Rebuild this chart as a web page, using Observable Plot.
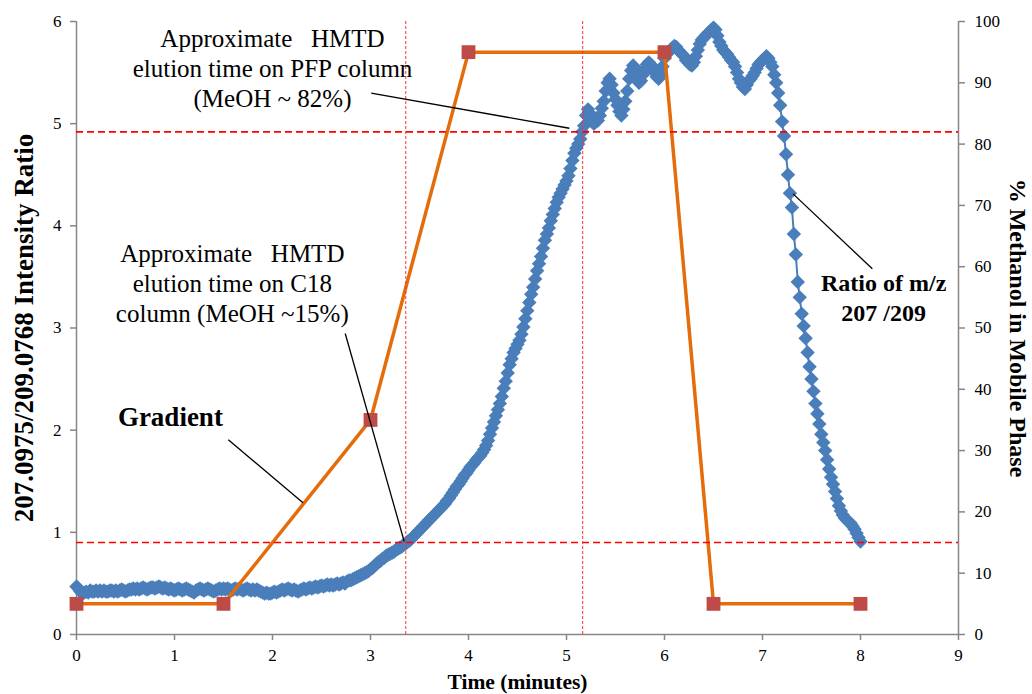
<!DOCTYPE html>
<html>
<head>
<meta charset="utf-8">
<script src="https://cdn.jsdelivr.net/npm/d3@7"></script>
<script src="https://cdn.jsdelivr.net/npm/@observablehq/plot@0.6"></script>
<style>
  html, body { margin: 0; padding: 0; background: #ffffff; }
  #chart { width: 1032px; height: 694px; }
</style>
</head>
<body>
<div id="chart"></div>
<script>
// ---- Data ----
const ratioStartTime = 0;
const ratioStepTime = 0.02;
const ratioValues = [
  0.47,0.45,0.42,0.40,0.41,0.42,0.41,0.43,0.42,0.42,
  0.43,0.42,0.43,0.42,0.43,0.42,0.42,0.43,0.43,0.42,
  0.43,0.42,0.43,0.44,0.43,0.42,0.43,0.44,0.44,0.45,
  0.44,0.45,0.44,0.45,0.46,0.45,0.44,0.45,0.46,0.46,
  0.45,0.46,0.47,0.46,0.45,0.46,0.45,0.44,0.45,0.44,
  0.43,0.44,0.45,0.44,0.43,0.44,0.45,0.44,0.43,0.42,
  0.41,0.43,0.44,0.45,0.44,0.43,0.44,0.45,0.44,0.43,
  0.42,0.43,0.44,0.45,0.44,0.45,0.44,0.45,0.44,0.43,
  0.44,0.45,0.44,0.45,0.44,0.43,0.44,0.45,0.44,0.43,
  0.44,0.43,0.44,0.43,0.42,0.41,0.40,0.41,0.40,0.40,
  0.41,0.42,0.41,0.42,0.43,0.44,0.43,0.44,0.45,0.44,
  0.43,0.44,0.43,0.42,0.43,0.44,0.45,0.44,0.45,0.46,
  0.45,0.46,0.47,0.46,0.47,0.48,0.47,0.48,0.49,0.48,
  0.49,0.48,0.49,0.50,0.49,0.50,0.51,0.50,0.52,0.53,
  0.53,0.54,0.55,0.56,0.57,0.58,0.59,0.60,0.61,0.62,
  0.64,0.65,0.67,0.69,0.71,0.72,0.74,0.75,0.77,0.78,
  0.79,0.80,0.81,0.83,0.84,0.85,0.86,0.88,0.89,0.91,
  0.92,0.94,0.96,0.98,1.00,1.02,1.04,1.06,1.08,1.10,
  1.12,1.14,1.16,1.18,1.20,1.22,1.24,1.26,1.28,1.31,
  1.33,1.36,1.39,1.42,1.45,1.47,1.50,1.53,1.56,1.58,
  1.61,1.64,1.66,1.68,1.71,1.73,1.75,1.78,1.81,1.85,
  1.90,1.96,2.02,2.08,2.14,2.20,2.26,2.33,2.41,2.48,
  2.56,2.64,2.70,2.76,2.80,2.84,2.88,2.94,3.01,3.09,
  3.17,3.25,3.33,3.40,3.48,3.56,3.63,3.70,3.78,3.86,
  3.92,3.98,4.05,4.11,4.17,4.23,4.28,4.32,4.36,4.40,
  4.44,4.49,4.56,4.64,4.71,4.76,4.80,4.85,4.92,4.98,
  5.08,5.14,5.10,5.02,5.00,5.05,5.03,5.08,5.15,5.22,
  5.32,5.40,5.44,5.38,5.30,5.24,5.18,5.12,5.08,5.14,
  5.22,5.32,5.44,5.52,5.57,5.54,5.48,5.40,5.42,5.48,
  5.54,5.58,5.60,5.58,5.54,5.50,5.46,5.44,5.48,5.56,
  5.64,5.68,5.70,5.72,5.74,5.76,5.75,5.72,5.70,5.68,
  5.66,5.62,5.60,5.58,5.57,5.60,5.66,5.72,5.78,5.82,
  5.84,5.86,5.88,5.90,5.92,5.94,5.92,5.86,5.80,5.76,
  5.72,5.70,5.68,5.65,5.62,5.60,5.56,5.50,5.44,5.40,
  5.36,5.34,5.38,5.42,5.44,5.47,5.50,5.54,5.58,5.60,
  5.62,5.64,5.66,5.64,5.60,5.56,5.48,5.40,5.30,5.18,
  5.02,4.88,4.70,4.50,4.32,4.18,3.92,3.72,3.45,3.30,
  3.14,3.02,2.90,2.76,2.62,2.50,2.38,2.26,2.16,2.06,
  1.96,1.88,1.80,1.71,1.62,1.54,1.47,1.40,1.33,1.26,
  1.21,1.17,1.14,1.12,1.10,1.09,1.06,1.03,0.99,0.95,
  0.91
];

// Gradient program (% methanol in mobile phase)
const gradientTimes = [0, 1.5, 3, 4, 6, 6.5, 8];
const gradientPercent = [5, 5, 35, 95, 95, 5, 5];

// Reference lines
const methanolRefPercent = [15, 82];      // horizontal dashed lines (% MeOH)
const elutionTimes = [3.36, 5.165];       // vertical dotted lines (min)

// Axis ticks
const xTicks = [0, 1, 2, 3, 4, 5, 6, 7, 8, 9];
const yTicks = [0, 1, 2, 3, 4, 5, 6];
const pctTicks = [0, 10, 20, 30, 40, 50, 60, 70, 80, 90, 100];

// Annotations (text & leader lines, data coordinates)
const annotationTexts = [
  {t: 2.0, v: 5.55, text: "Approximate\u00a0\u00a0 HMTD\nelution time on PFP column\n(MeOH ~ 82%)"},
  {t: 1.59, v: 3.45, text: "Approximate\u00a0\u00a0 HMTD\nelution time on C18\ncolumn (MeOH ~15%)"}
];
const boldTexts = [
  {t: 0.958, v: 2.15, text: "Gradient", size: 27},
  {t: 8.236, v: 3.31, text: "Ratio of m/z\n207 /209", size: 24}
];
const leaders = [
  {t1: 3.007, v1: 5.298, t2: 5.029, v2: 4.955},
  {t1: 2.742, v1: 2.946, t2: 3.344, v2: 0.910},
  {t1: 1.549, v1: 1.906, t2: 2.311, v2: 1.289},
  {t1: 7.312, v1: 4.313, t2: 8.121, v2: 3.579}
];

// ---- Derived tables ----
const Y_MAX = 6, PCT_MAX = 100;
const pctToY = p => p * Y_MAX / PCT_MAX;
const ratio = ratioValues.map((v, i) => ({t: ratioStartTime + i * ratioStepTime, v}));
const gradient = gradientTimes.map((t, i) => ({t, v: pctToY(gradientPercent[i])}));

const AXIS_GRAY = "#868686";

const chart = Plot.plot({
  width: 1032,
  height: 694,
  marginLeft: 76,
  marginRight: 74,
  marginTop: 21,
  marginBottom: 60,
  style: {fontFamily: "'Liberation Serif', 'Times New Roman', serif", fontSize: "17px", background: "#ffffff", color: "#000000"},
  x: {domain: [0, 9]},
  y: {domain: [0, 6]},
  marks: [
    // axis lines
    Plot.ruleY([0], {stroke: AXIS_GRAY, strokeWidth: 1.5}),
    Plot.ruleX([0, 9], {stroke: AXIS_GRAY, strokeWidth: 1.5}),
    Plot.axisX(xTicks, {anchor: "bottom", tickSize: 6, tickPadding: 8, stroke: AXIS_GRAY, fill: "#000", strokeWidth: 1.5, label: null, tickFormat: d => String(d)}),
    Plot.axisY(yTicks, {anchor: "left", tickSize: 6, tickPadding: 9, stroke: AXIS_GRAY, fill: "#000", strokeWidth: 1.5, label: null, tickFormat: d => String(d)}),
    Plot.axisY(pctTicks.map(pctToY), {anchor: "right", tickSize: 6, tickPadding: 10, stroke: AXIS_GRAY, fill: "#000", strokeWidth: 1.5, label: null, tickFormat: d => String(Math.round(d * PCT_MAX / Y_MAX))}),
    // ratio series
    Plot.line(ratio, {x: "t", y: "v", stroke: "#4a7ebb", strokeWidth: 2}),
    Plot.dot(ratio, {x: "t", y: "v", symbol: "diamond2", r: 6.5, fill: "#4a7ebb", stroke: "none"}),
    // gradient series
    Plot.line(gradient, {x: "t", y: "v", stroke: "#e46c0a", strokeWidth: 3.5}),
    Plot.dot(gradient, {x: "t", y: "v", symbol: "square", r: 7.8, fill: "#be4b48", stroke: "none"}),
    // reference lines
    Plot.ruleY(methanolRefPercent.map(pctToY), {stroke: "#ff0000", strokeWidth: 1.6, strokeDasharray: "7,4"}),
    Plot.ruleX(elutionTimes, {y1: 0, y2: 6, stroke: "#ff3030", strokeWidth: 1, strokeDasharray: "3,2"}),
    // leader lines
    Plot.link(leaders, {x1: "t1", y1: "v1", x2: "t2", y2: "v2", stroke: "#000", strokeWidth: 1.3}),
    // annotation texts
    Plot.text(annotationTexts, {x: "t", y: "v", text: "text", fontSize: 25, lineHeight: 1.2, textAnchor: "middle", fill: "#000"}),
    Plot.text(boldTexts, {x: "t", y: "v", text: "text", fontSize: d => d.size, fontWeight: "bold", lineHeight: 1.25, textAnchor: "middle", fill: "#000"}),
    // axis titles
    Plot.text(["Time (minutes)"], {frameAnchor: "bottom", dy: 48, lineAnchor: "middle", textAnchor: "middle", fontSize: 21.5, fontWeight: "bold", fill: "#000"}),
    Plot.text(["207.0975/209.0768 Intensity Ratio"], {frameAnchor: "left", dx: -52, rotate: -90, lineAnchor: "middle", textAnchor: "middle", fontSize: 27, fontWeight: "bold", fill: "#000"}),
    Plot.text(["% Methanol in Mobile Phase"], {frameAnchor: "right", dx: 59, rotate: 90, lineAnchor: "middle", textAnchor: "middle", fontSize: 24, fontWeight: "bold", fill: "#000"})
  ]
});

document.getElementById("chart").appendChild(chart);
</script>
</body>
</html>
